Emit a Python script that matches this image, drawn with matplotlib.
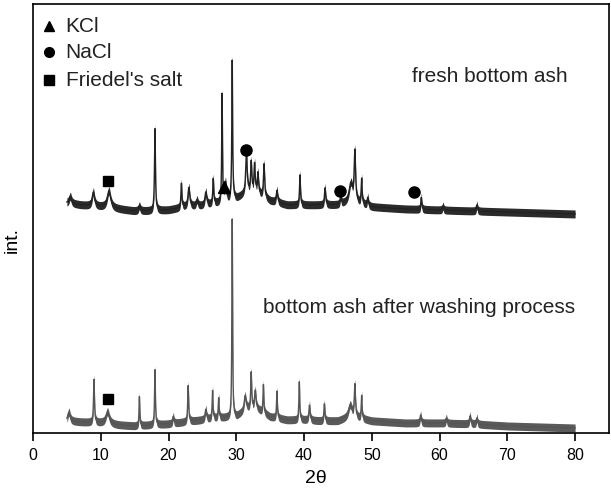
import numpy as np
import matplotlib
matplotlib.use("Agg")
import matplotlib.pyplot as plt

plt.rcParams["font.family"] = ["Liberation Sans", "DejaVu Sans"]

# baseline (band centre) of each pattern, read at a few 2theta values
base_2theta = [5, 7, 10, 12.5, 15, 17.5, 20, 22.5, 25, 27.5, 30, 31.5, 33, 35,
               37.5, 40, 42.5, 45, 47, 50, 55, 60, 65, 70, 75, 80]
fresh_base = [230, 228, 226, 224, 222, 222, 223, 226, 227, 230, 234, 240, 240, 232,
              228, 228, 228, 228, 231, 226, 224, 223, 222, 221, 220, 219]
washed_base = [12, 11, 10, 8, 7, 8, 9, 11, 13, 15, 16, 24, 24, 16,
               13, 13, 12, 12, 16, 12, 10, 10, 9, 7, 6, 5]

# peaks: position (2theta), height above baseline, half width
fresh_pos = [5.5, 8.9, 11.2, 15.7, 18.0, 21.9, 23.0, 24.2, 25.5, 26.6, 27.9, 28.4,
             29.4, 31.5, 32.2, 32.7, 33.2, 34.1, 36.0, 39.4, 43.1, 45.4, 46.9, 47.5,
             48.5, 49.4, 57.3, 60.5, 65.5]
fresh_h = [7, 14, 17, 5, 82, 24, 19, 6, 13, 25, 107, 18,
           139, 42, 30, 28, 20, 33, 12, 30, 17, 7, 18, 50,
           25, 8, 12, 4, 6]
fresh_w = [0.2, 0.2, 0.3, 0.15, 0.08, 0.08, 0.15, 0.15, 0.15, 0.08, 0.06, 0.15,
           0.07, 0.12, 0.1, 0.1, 0.1, 0.1, 0.12, 0.08, 0.1, 0.1, 0.3, 0.12,
           0.08, 0.1, 0.08, 0.1, 0.1]

washed_pos = [5.3, 9.0, 11.0, 15.7, 18.0, 20.7, 22.9, 25.5, 26.5, 27.4, 29.4, 31.3,
              32.2, 32.8, 34.0, 36.0, 39.3, 40.8, 43.0, 46.8, 47.5, 48.5, 57.2, 61.0,
              64.5, 65.5]
washed_h = [9, 43, 12, 29, 55, 7, 36, 10, 28, 20, 198, 14,
            36, 18, 28, 27, 38, 15, 17, 12, 32, 23, 8, 5,
            8, 6]
washed_w = [0.2, 0.08, 0.3, 0.06, 0.07, 0.1, 0.08, 0.12, 0.07, 0.07, 0.06, 0.15,
            0.08, 0.12, 0.07, 0.07, 0.07, 0.1, 0.08, 0.3, 0.1, 0.07, 0.1, 0.1,
            0.1, 0.1]

# phase markers placed above the peaks
kcl_marks = [(28.2, 246)]
nacl_marks = [(31.5, 283), (45.3, 242), (56.2, 241)]
friedel_marks = [(11.1, 252), (11.1, 34)]

two_theta = np.arange(5, 80.01, 0.01)


def pattern(base, pos, h, w):
    y = np.interp(two_theta, base_2theta, base)
    for p, hh, ww in zip(pos, h, w):
        y = y + hh / (1 + ((two_theta - p) / ww) ** 2)
    return y


fresh = pattern(fresh_base, fresh_pos, fresh_h, fresh_w)
washed = pattern(washed_base, washed_pos, washed_h, washed_w)

fig = plt.figure(figsize=(6.11, 4.89), dpi=100)
ax = fig.add_axes([0.054, 0.1125, 0.9427, 0.8773])

# noisy band of the detector signal
ax.fill_between(two_theta, fresh - 4, fresh + 4, color="#2b2b2b", lw=0)
ax.plot(two_theta, fresh, color="#222222", lw=1.0)
ax.fill_between(two_theta, washed - 4, washed + 4, color="#5a5a5a", lw=0)
ax.plot(two_theta, washed, color="#555555", lw=1.0)

for x, y in kcl_marks:
    ax.plot(x, y, marker="^", color="black", ms=8, ls="none")
for x, y in nacl_marks:
    ax.plot(x, y, marker="o", color="black", ms=8, ls="none")
for x, y in friedel_marks:
    ax.plot(x, y, marker="s", color="black", ms=7.5, ls="none")

# legend drawn by hand
ax.plot(2.33, 407, marker="^", color="black", ms=7, ls="none")
ax.plot(2.33, 381, marker="o", color="black", ms=7, ls="none")
ax.plot(2.33, 353, marker="s", color="black", ms=7, ls="none")
ax.text(4.8, 407, "KCl", fontsize=15, va="center", color="#222222")
ax.text(4.8, 381, "NaCl", fontsize=15, va="center", color="#222222")
ax.text(4.8, 353, "Friedel's salt", fontsize=15, va="center", color="#222222")

ax.text(56.0, 357, "fresh bottom ash", fontsize=15, va="center", color="#222222")
ax.text(33.9, 126, "bottom ash after washing process", fontsize=15, va="center", color="#222222")

ax.set_xlim(0, 85)
ax.set_ylim(0, 429)
ax.set_xticks(np.arange(0, 81, 10))
ax.set_yticks([])
ax.tick_params(axis="x", direction="out", length=6, width=1.2, labelsize=11.5, pad=4)
for s in ax.spines.values():
    s.set_linewidth(1.2)

ax.set_xlabel("2\u03b8", fontsize=14)
ax.xaxis.set_label_coords(0.491, -0.085)
ax.set_ylabel("int.", fontsize=14)
ax.yaxis.set_label_coords(-0.022, 0.452)

fig.savefig("out.png", dpi=100)
